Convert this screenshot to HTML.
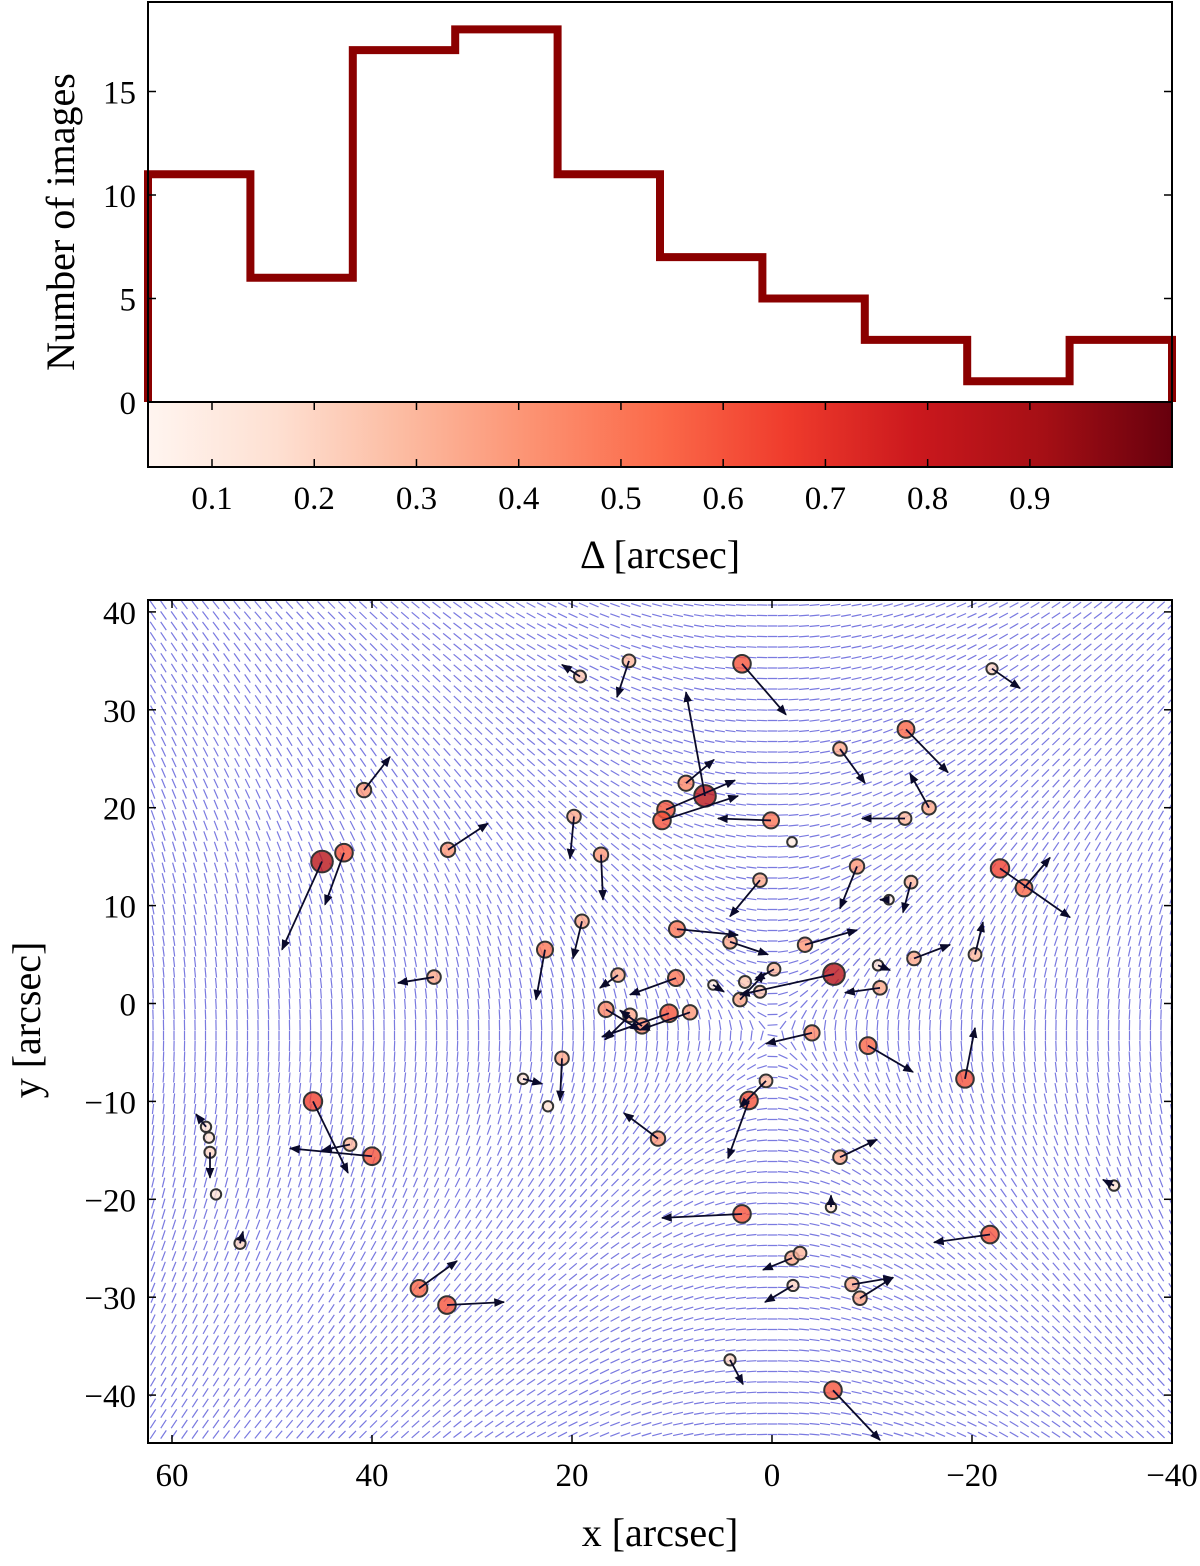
<!DOCTYPE html>
<html><head><meta charset="utf-8">
<style>
body{margin:0;background:#fff;}
svg text{font-family:"Liberation Serif",serif;fill:#000;}
</style></head>
<body>
<svg id="fig" width="1200" height="1561" xmlns="http://www.w3.org/2000/svg">
<g id="hist"></g>
<g id="cbar"></g>
<g id="field"></g>
<g id="pts"></g>
<g id="axes2"></g>
</svg>
<script>
// ---------- data ----------
const histCounts = [11, 6, 17, 18, 11, 7, 5, 3, 1, 3];
const histYTicks = [0, 5, 10, 15];
const cbarTicks = [0.1, 0.2, 0.3, 0.4, 0.5, 0.6, 0.7, 0.8, 0.9];
const xTicks = [60, 40, 20, 0, -20, -40];
const yTicks = [40, 30, 20, 10, 0, -10, -20, -30, -40];
// points: x, y, delta, arrow tip x, tip y (arcsec)
const ptX = [19.2,14.3,3.0,-22.0,-13.4,-6.8,40.8,8.6,10.6,11.0,6.7,0.1,-15.7,-13.3,19.8,-2.0,45.0,42.8,32.4,17.1,-22.8,-25.2,-8.5,-13.9,-11.7,1.2,19.0,9.5,4.2,22.7,-3.3,-14.2,-20.3,-10.6,33.8,15.4,9.6,-6.2,-0.2,5.9,-10.8,3.2,2.7,1.2,16.6,14.2,10.3,8.2,13.0,-4.0,-9.6,21.0,24.9,22.4,45.9,0.6,2.3,-19.3,11.4,42.2,40.0,56.6,56.3,56.2,55.6,53.2,-6.8,-34.2,3.0,-5.9,-21.8,-2.0,-2.8,35.3,32.5,-2.1,-8.0,-8.8,4.2,-6.1];
const ptY = [33.4,35.0,34.7,34.2,28.0,26.0,21.8,22.5,19.8,18.7,21.2,18.7,20.0,18.9,19.1,16.5,14.5,15.4,15.7,15.2,13.8,11.8,14.0,12.4,10.6,12.6,8.4,7.6,6.3,5.5,6.0,4.6,5.0,3.9,2.7,2.9,2.6,3.0,3.5,1.9,1.6,0.4,2.2,1.2,-0.6,-1.2,-1.0,-0.9,-2.3,-3.0,-4.3,-5.6,-7.7,-10.5,-10.0,-7.9,-9.9,-7.7,-13.8,-14.4,-15.6,-12.6,-13.7,-15.2,-19.5,-24.5,-15.7,-18.6,-21.5,-20.8,-23.6,-26.0,-25.5,-29.1,-30.8,-28.8,-28.7,-30.1,-36.4,-39.5];
const ptDelta = [0.25,0.3,0.6,0.2,0.55,0.35,0.4,0.45,0.6,0.6,0.85,0.5,0.35,0.3,0.35,0.1,0.85,0.6,0.4,0.4,0.65,0.55,0.4,0.3,0.1,0.35,0.35,0.5,0.35,0.5,0.4,0.35,0.3,0.15,0.35,0.35,0.5,0.85,0.3,0.1,0.35,0.35,0.25,0.25,0.45,0.35,0.6,0.4,0.45,0.45,0.55,0.35,0.15,0.15,0.65,0.3,0.6,0.6,0.4,0.3,0.6,0.15,0.15,0.2,0.15,0.2,0.35,0.15,0.6,0.15,0.6,0.35,0.3,0.55,0.6,0.2,0.35,0.35,0.2,0.6];
const tipX = [21.0,15.5,-1.4,-24.8,-17.6,-9.3,38.2,5.8,3.7,3.4,8.6,5.4,-13.8,-9.0,20.2,-2.0,49.0,44.7,28.4,16.9,-29.8,-27.8,-6.8,-13.1,-10.8,4.2,19.9,3.4,0.4,23.6,-8.5,-17.8,-21.1,-11.8,37.4,17.2,14.2,3.2,1.7,4.8,-7.3,0.7,2.7,1.2,13.2,16.7,17.0,13.2,15.2,0.6,-14.1,21.2,23.0,22.4,42.4,3.2,4.4,-20.3,14.8,45.0,48.2,57.6,56.3,56.2,55.6,52.9,-10.5,-33.1,11.0,-5.9,-16.2,0.9,-2.8,31.5,26.8,0.7,-12.1,-12.1,2.9,-10.8];
const tipY = [34.6,31.3,29.5,32.2,23.6,22.5,25.2,24.9,22.8,21.2,31.8,18.9,23.5,18.9,14.8,16.5,5.5,10.1,18.4,10.6,8.8,14.9,9.7,9.3,10.6,8.9,4.6,7.0,5.0,0.4,7.5,6.0,8.3,3.4,2.1,1.6,0.9,0.9,2.4,1.2,1.1,3.1,2.2,1.2,-2.7,-3.7,-3.4,-2.7,-0.7,-4.1,-7.0,-9.9,-8.2,-10.5,-17.3,-10.6,-15.8,-2.5,-11.2,-15.0,-14.8,-11.3,-13.7,-17.8,-19.5,-23.3,-13.9,-18.0,-21.9,-19.6,-24.4,-27.2,-25.5,-26.3,-30.5,-30.5,-28.0,-28.0,-38.9,-44.6];

// ---------- helpers ----------
const NS="http://www.w3.org/2000/svg";
function mk(parent,tag,attrs,text){const e=document.createElementNS(NS,tag);for(const k in attrs)e.setAttribute(k,attrs[k]);if(text!==undefined)e.textContent=text;parent.appendChild(e);return e;}
const reds=[[255,245,240],[254,224,210],[252,187,161],[252,146,114],[251,106,74],[239,59,44],[203,24,29],[165,15,21],[103,0,13]];
function redColor(t){t=Math.max(0,Math.min(1,t));const f=t*8,i=Math.min(7,Math.floor(f)),r=f-i;const a=reds[i],b=reds[i+1];return `rgb(${Math.round(a[0]+(b[0]-a[0])*r)},${Math.round(a[1]+(b[1]-a[1])*r)},${Math.round(a[2]+(b[2]-a[2])*r)})`;}

// ---------- histogram ----------
const HL=148,HR=1172,HT=2,HB=402;
const dMin=0.0374,dMax=1.039;
const hx=v=>HL+(v-dMin)/(dMax-dMin)*(HR-HL);
const hy=v=>HB-v*20.7;
const hist=document.getElementById('hist');
const binW=(dMax-dMin)/histCounts.length;
let d=`M${HL},${HB}`;
histCounts.forEach((c,i)=>{const x0=hx(dMin+i*binW),x1=hx(dMin+(i+1)*binW);d+=` L${x0},${hy(c)} L${x1},${hy(c)}`;});
d+=` L${HR},${HB}`;
let hp=mk(hist,'path',{d:d,fill:'none',stroke:'#8b0000','stroke-width':8});


let hf=mk(hist,'rect',{x:HL,y:HT,width:HR-HL,height:HB-HT,fill:'none',stroke:'#000','stroke-width':2});

histYTicks.forEach(v=>{const y=hy(v);
 mk(hist,'line',{x1:HL,x2:HL+8,y1:y,y2:y,stroke:'#000','stroke-width':1.5});
 mk(hist,'line',{x1:HR,x2:HR-8,y1:y,y2:y,stroke:'#000','stroke-width':1.5});
 const t=mk(hist,'text',{x:136,y:y+12,'font-size':33,'text-anchor':'end'},String(v));
 
});
let yl=mk(hist,'text',{x:0,y:0,'font-size':40,'text-anchor':'middle',transform:'translate(74,222) rotate(-90)'},'Number of images');


// ---------- colorbar ----------
const cb=document.getElementById('cbar');
const defs=mk(cb,'defs',{});
const lg=mk(defs,'linearGradient',{id:'redsg',x1:0,x2:1,y1:0,y2:0});
for(let i=0;i<=8;i++)mk(lg,'stop',{offset:i/8,'stop-color':redColor(i/8)});
let cr=mk(cb,'rect',{x:HL,y:402,width:HR-HL,height:65,fill:'url(#redsg)',stroke:'#000','stroke-width':2});

cbarTicks.forEach(v=>{const x=hx(v);
 mk(cb,'line',{x1:x,x2:x,y1:467,y2:459,stroke:'#000','stroke-width':1.5});
 mk(cb,'line',{x1:x,x2:x,y1:402,y2:410,stroke:'#000','stroke-width':1.5});
 const t=mk(cb,'text',{x:x,y:509,'font-size':33,'text-anchor':'middle'},v.toFixed(1));
 
});
let cl=mk(cb,'text',{x:660,y:568,'font-size':40,'text-anchor':'middle'},'Δ [arcsec]');


// ---------- lower panel ----------
const L=148,R=1172,T=600,B=1443;
const px=v=>772-10*v;
const py=v=>1003.5-9.79*v;
const field=document.getElementById('field');
const clipEl=mk(field,'clipPath',{id:'clip'});
mk(clipEl,'rect',{x:L,y:T,width:R-L,height:B-T});
let fd='';
const cx0=0,cy0=-3;
for(let gx=L+5;gx<R;gx+=10.5){for(let gy=T+5;gy<B;gy+=10.5){
 const dx=(772-gx)/10-cx0, dy=(1003.5-gy)/9.79-cy0;
 let ang=Math.atan2(dy,dx)+Math.PI/2;
 const ux=Math.cos(ang)*5, uy=-Math.sin(ang)*5;
 fd+=`M${(gx-ux).toFixed(1)},${(gy-uy).toFixed(1)}L${(gx+ux).toFixed(1)},${(gy+uy).toFixed(1)}`;
}}
let fp=mk(field,'path',{d:fd,stroke:'#7a7ae0','stroke-width':1.2,fill:'none','clip-path':'url(#clip)'});


const pts=document.getElementById('pts');
const am=mk(pts,'defs',{});
const mkr=mk(am,'marker',{id:'ah',viewBox:'0 0 10 10',refX:9,refY:5,markerWidth:6,markerHeight:6,orient:'auto'});
mk(mkr,'path',{d:'M0,1 L10,5 L0,9 z',fill:'#0a0a2a'});
for(let i=0;i<ptX.length;i++){
 const x=px(ptX[i]),y=py(ptY[i]),r=4+8*ptDelta[i];
 const c=mk(pts,'circle',{cx:x,cy:y,r:r,fill:redColor((ptDelta[i]-dMin)/(dMax-dMin)),'fill-opacity':0.8,stroke:'#333','stroke-width':2});
 
 
}
for(let i=0;i<ptX.length;i++){
 const x=px(ptX[i]),y=py(ptY[i]),tx=px(tipX[i]),ty=py(tipY[i]);
 if(Math.hypot(tx-x,ty-y)<3)continue;
 const a=mk(pts,'line',{x1:x,y1:y,x2:tx,y2:ty,stroke:'#0a0a2a','stroke-width':1.8,'marker-end':'url(#ah)'});
 
 
}
const ax=document.getElementById('axes2');
let fr=mk(ax,'rect',{x:L,y:T,width:R-L,height:B-T,fill:'none',stroke:'#000','stroke-width':2});

xTicks.forEach(v=>{const x=px(v);
 mk(ax,'line',{x1:x,x2:x,y1:B,y2:B-8,stroke:'#000','stroke-width':1.5});
 mk(ax,'line',{x1:x,x2:x,y1:T,y2:T+8,stroke:'#000','stroke-width':1.5});
 const t=mk(ax,'text',{x:x,y:1486,'font-size':33,'text-anchor':'middle'},v<0?'−'+(-v):String(v));
 
});
yTicks.forEach(v=>{const y=py(v);
 mk(ax,'line',{x1:L,x2:L+8,y1:y,y2:y,stroke:'#000','stroke-width':1.5});
 mk(ax,'line',{x1:R,x2:R-8,y1:y,y2:y,stroke:'#000','stroke-width':1.5});
 const t=mk(ax,'text',{x:136,y:y+12,'font-size':33,'text-anchor':'end'},v<0?'−'+(-v):String(v));
 
});
let xl=mk(ax,'text',{x:660,y:1546,'font-size':40,'text-anchor':'middle'},'x [arcsec]');

let yl2=mk(ax,'text',{x:0,y:0,'font-size':40,'text-anchor':'middle',transform:'translate(40,1020) rotate(-90)'},'y [arcsec]');

</script>
</body></html>
